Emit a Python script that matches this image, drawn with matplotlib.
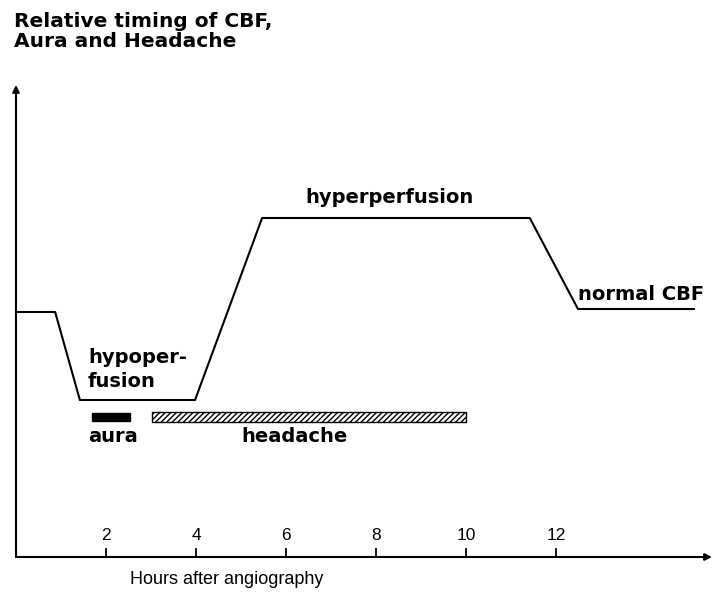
import matplotlib.pyplot as plt
from matplotlib.patches import Rectangle

# CBF trace (hours, arbitrary units)
hours = [0, 0.87, 1.42, 3.98, 5.47, 11.42, 12.49, 15.07]
cbf = [245, 245, 157, 157, 339, 339, 248, 248]

aura = (1.69, 2.53)
headache = (3.02, 10.0)
bar_level = 140

xticks = [2, 4, 6, 8, 10, 12]

plt.rcParams['font.family'] = ['DejaVu Sans']
fig = plt.figure(figsize=(7.12, 5.96), dpi=100)
ax = fig.add_axes([16 / 712, 39 / 596, 696 / 712, 472 / 596])
ax.set_xlim(0, 15.47)
ax.set_ylim(0, 472)
for s in ax.spines.values():
    s.set_visible(False)
ax.set_xticks([])
ax.set_yticks([])

# axes with arrows
ax.annotate('', xy=(1, 0), xytext=(0, 0), xycoords='axes fraction',
            arrowprops=dict(arrowstyle='-|>', color='black', lw=1.5,
                            mutation_scale=10, shrinkA=0, shrinkB=0))
ax.annotate('', xy=(0, 1), xytext=(0, 0), xycoords='axes fraction',
            arrowprops=dict(arrowstyle='-|>', color='black', lw=1.5,
                            mutation_scale=10, shrinkA=0, shrinkB=0))
for t in xticks:
    ax.plot([t, t], [0, 8], color='black', lw=1.3, clip_on=False)
    ax.text(t, 14, str(t), ha='center', va='bottom', fontsize=12.5,
            family='Liberation Sans')

ax.plot(hours, cbf, color='black', lw=1.5, clip_on=False)

ax.add_patch(Rectangle((aura[0], bar_level - 4), aura[1] - aura[0], 8,
                       facecolor='black', edgecolor='black'))
ax.add_patch(Rectangle((headache[0], bar_level - 5), headache[1] - headache[0], 10,
                       facecolor='white', edgecolor='black', hatch='//////', lw=1))

ax.text(8.3, 350, 'hyperperfusion', ha='center', va='bottom', fontsize=14, fontweight='bold')
ax.text(12.5, 253, 'normal CBF', ha='left', va='bottom', fontsize=14, fontweight='bold')
ax.text(1.6, 166, 'hypoper-\nfusion', ha='left', va='bottom', fontsize=14,
        fontweight='bold', linespacing=1.35)
ax.text(2.15, 120, 'aura', ha='center', va='center', fontsize=14, fontweight='bold')
ax.text(6.2, 120, 'headache', ha='center', va='center', fontsize=14, fontweight='bold')

fig.text(14 / 712, 1 - 12 / 596, 'Relative timing of CBF,\nAura and Headache', ha='left',
         va='top', fontsize=14.5, fontweight='bold', linespacing=1.05)
fig.text(130 / 712, 1 - 580 / 596, 'Hours after angiography', ha='left', va='center',
         fontsize=13, family='Liberation Sans')

fig.savefig('out.png', dpi=100)
